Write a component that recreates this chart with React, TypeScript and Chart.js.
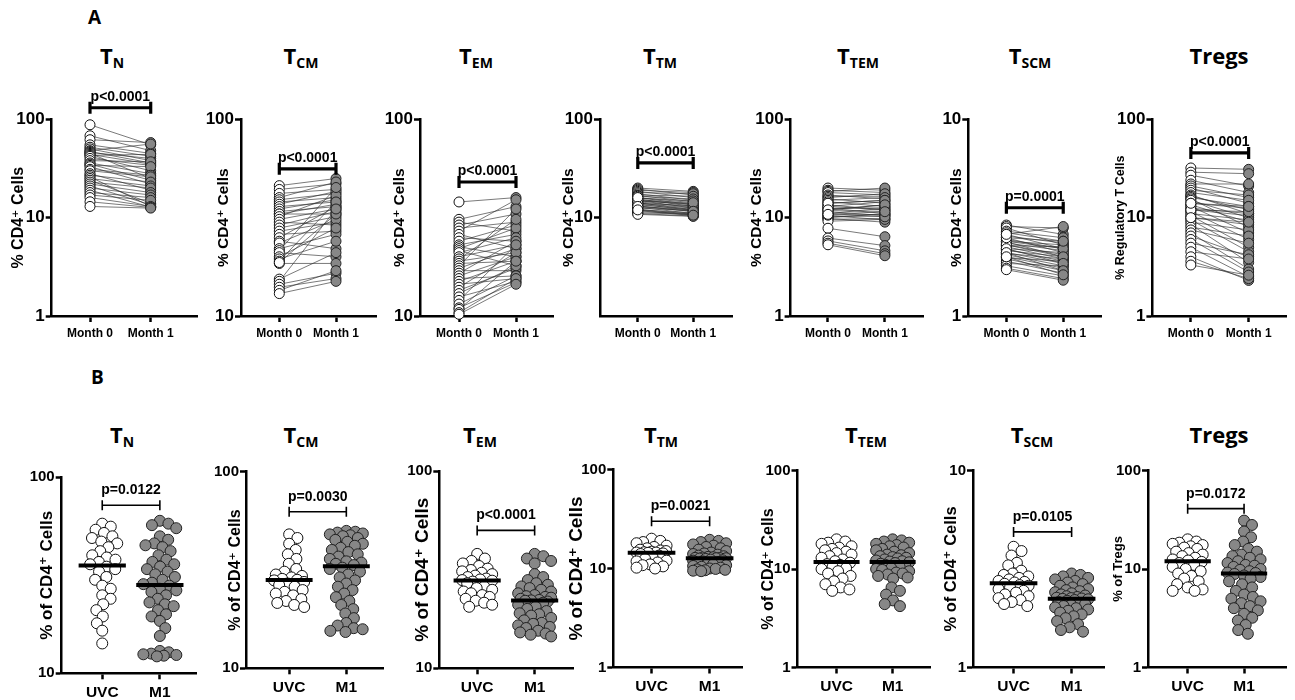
import React, { useEffect, useRef } from 'react';
import { Chart, registerables } from 'chart.js';
Chart.register(...registerables);

// ---------------- DATA ----------------
const monthLabels = ['Month 0', 'Month 1'];
const groupLabels = ['UVC', 'M1'];

const titleMain = ['T', 'T', 'T', 'T', 'T', 'T', 'Tregs'];
const titleSub = ['N', 'CM', 'EM', 'TM', 'TEM', 'SCM', ''];

// Panel A (paired Month 0 / Month 1)
const aTnMonth0 = [88, 68, 62, 55, 52, 50, 48, 47, 46, 45, 44, 43, 42, 40, 38, 36, 35, 34, 33, 31, 30, 28, 27, 26, 25, 24, 23, 22, 21, 20, 19, 18, 17, 16, 14.5, 13];
const aTnMonth1 = [55, 48, 58, 45, 42, 38, 56, 36, 40, 25, 35, 44, 30, 34, 37, 28, 24, 33, 22, 27, 26, 19, 23, 13, 21, 14, 20, 18, 13.5, 17, 12.8, 16, 15, 13, 12.7, 12.5];
const aTcmMonth0 = [46, 44, 42, 40, 39, 38, 37, 36, 35, 34, 33, 33, 32, 31, 30, 29, 28, 27, 26, 25, 24, 23.5, 22, 21.5, 21, 20, 19.5, 19, 18.5, 18.7, 15.4, 15, 14.5, 14, 13.5, 13];
const aTcmMonth1 = [50, 47, 44, 48, 42, 40, 43, 38, 39, 36, 37, 33, 41, 35, 29, 34, 32, 30, 27, 36, 22, 31, 26, 45, 20, 28, 24, 38, 18.5, 33, 21, 35, 16.5, 15.5, 17, 15];
const aTemMonth0 = [38, 31, 30, 29, 28, 27, 26, 25, 24, 23, 22.5, 22, 21.5, 21, 20, 19.5, 19, 18.5, 18, 17.5, 17, 16.5, 16, 15.5, 15, 14.5, 14, 13.5, 13, 12.5, 12, 11.5, 11, 10.8, 10.4, 10.2];
const aTemMonth1 = [40, 36, 27, 33, 30, 39, 22, 24, 29, 26, 20, 28, 18, 25, 23, 31, 21, 19, 35, 22, 17, 24, 20, 16, 19, 15.5, 21, 17.5, 18, 15, 23, 16, 14.8, 19, 15.5, 14.5];
const aTtmMonth0 = [20, 19.5, 19, 18.5, 18, 17.5, 17, 16.8, 16.5, 16, 15.8, 15.5, 15.2, 15, 14.8, 14.5, 14.2, 14, 13.8, 13.5, 13.2, 13, 12.8, 12.5, 12.2, 12, 11.8, 11.5, 11.2, 11, 10.8, 14, 15, 16, 13, 12];
const aTtmMonth1 = [18.5, 17, 18, 16, 17.5, 15, 16.5, 14.5, 15.5, 13.5, 14.8, 13, 14, 12.5, 13.8, 12.8, 12, 13.2, 11.8, 12.2, 11.5, 12, 11, 11.8, 10.8, 11.2, 10.5, 11, 10.8, 10.4, 10.3, 12.5, 13.5, 14.2, 11.6, 10.6];
const aTtemMonth0 = [20, 19, 18.5, 18, 17, 16.5, 16, 15.5, 15, 14.5, 14, 13.5, 13, 12.5, 12, 11.5, 11, 10.5, 10, 9.8, 10.2, 9.6, 9.2, 10.6, 7.8, 11.8, 6.2, 12.4, 5.8, 5.5, 5.3, 13, 14, 11, 12, 10.8];
const aTtemMonth1 = [19, 18, 20, 17, 15.5, 16.5, 17.5, 14, 16, 13, 15, 12, 14.5, 11, 13.5, 10.5, 12.5, 9.5, 11, 9, 10.4, 9.8, 9.6, 10.8, 6.4, 11.6, 5.2, 12.6, 4.6, 4.3, 4.1, 12, 15, 10.2, 13.5, 11.5];
const aTscmMonth0 = [2.9, 2.85, 2.8, 2.7, 2.65, 2.6, 2.55, 2.5, 2.45, 2.4, 2.38, 2.35, 2.3, 2.28, 2.25, 2.2, 2.18, 2.15, 2.1, 2.08, 2.05, 2.0, 1.98, 1.95, 1.9, 1.85, 1.8, 1.75, 1.72, 2.4, 2.3, 2.2, 2.5, 2.6, 2.1, 2.0];
const aTscmMonth1 = [2.6, 2.8, 2.3, 2.5, 2.4, 2.2, 2.35, 2.1, 2.2, 2.3, 2.0, 2.15, 2.05, 2.25, 1.95, 2.1, 1.9, 2.0, 1.85, 1.95, 1.8, 1.75, 1.9, 1.7, 1.65, 1.8, 1.6, 1.55, 1.52, 2.2, 2.0, 1.85, 2.4, 2.85, 1.7, 1.62];
const aTregsMonth0 = [32, 29, 27, 24, 22, 21, 20, 19, 18, 17, 16.5, 16, 15.5, 15, 14, 13.5, 13, 12.5, 12, 11.5, 11, 10.5, 10, 9.5, 9, 8.5, 8, 7.5, 7, 6.5, 6, 5.5, 5, 4.5, 4, 3.6, 3.3, 12, 14, 10];
const aTregsMonth1 = [31, 28, 21, 18, 22, 16, 14, 17, 15, 11, 12, 13, 8, 10, 12.5, 9, 7, 11, 10.5, 6, 9.5, 5, 8.5, 4.5, 7.5, 3.5, 6.5, 5.5, 3, 4, 2.8, 4.2, 2.5, 3.8, 2.3, 2.4, 2.6, 11.5, 13, 9];

// Panel B (UVC vs M1)
const bTnUVC = [58, 56, 54, 52, 50, 49, 47, 46, 44, 42, 40, 39, 38, 37, 36, 35, 34, 33, 31, 30, 28, 27, 25, 24, 22.5, 21, 19.5, 18, 16.5, 14.2];
const bTnM1 = [60, 58, 57, 55, 50, 48, 46, 45, 44, 42, 40, 38, 37, 36, 35, 34, 33, 32, 31, 30, 29, 28.5, 28, 27, 26.5, 26, 25, 24, 23, 22.5, 22, 21, 20, 19.5, 18.5, 17, 15.5, 13, 12.8, 12.6, 12.5, 12.4, 12.3, 12.2];
const bTcmUVC = [48, 46, 43, 40, 38, 36, 34, 32, 31, 30, 29.5, 29, 28.5, 28.2, 28, 27.5, 27, 26.5, 26, 25, 24.5, 24, 23.5, 22.5, 22, 21.5, 21, 20.5];
const bTcmM1 = [50, 49.5, 49, 48.5, 48, 47.5, 47, 46, 45, 44, 43, 42, 41, 40, 39, 38, 37, 36, 35, 34.5, 34, 33.5, 32.5, 32, 31, 30, 29, 28, 27, 26, 25, 24, 23, 22, 21, 20, 19, 18, 17, 16.5, 16, 15.8, 15.5, 15.3];
const bTemUVC = [38, 36, 35, 34, 33, 32, 31.5, 31, 30.5, 30, 29.5, 29, 28.5, 28.2, 28, 27.8, 27.5, 27, 26, 25.5, 25, 24.5, 24, 23.5, 23, 22.5, 22, 21.5, 21, 20.5];
const bTemM1 = [38, 37, 36, 35, 34, 30, 29, 28, 27, 26.5, 26, 25.5, 25, 24.5, 24, 23.5, 23.2, 23, 22.8, 22.5, 22.2, 22.1, 22, 21.8, 21.5, 21, 20.5, 20, 19.5, 19, 18.8, 18.5, 18, 17.5, 17, 16.8, 16.5, 16.2, 16, 15.5, 15.2, 15, 14.8, 14.5];
const bTtmUVC = [20, 19, 18.5, 18, 17, 16.5, 16, 15.5, 15.2, 15, 14.8, 14.6, 14.5, 14.5, 14.4, 14.2, 14, 13.5, 13, 12.5, 12, 11.8, 11.5, 11, 10.8, 10.5, 10.2, 10];
const bTtmM1 = [19.5, 19, 18.5, 18, 17.5, 17, 16.5, 16, 15.5, 15, 14.5, 14.2, 14, 13.8, 13.5, 13.3, 13.1, 13, 12.9, 12.8, 12.75, 12.7, 12.7, 12.6, 12.5, 12.3, 12.1, 12, 11.8, 11.6, 11.4, 11.2, 11, 10.8, 10.6, 10.4, 10.2, 10, 9.9, 9.8, 9.7, 9.6, 9.5, 9.4];
const bTtemUVC = [20, 19, 18.5, 18, 17, 16.5, 16, 15.5, 15, 14.5, 14, 13.5, 13, 12.5, 12, 11.6, 11.2, 11, 10.5, 10.2, 10, 9.5, 9, 8.5, 8, 7.5, 7, 6.5, 6.2, 6];
const bTtemM1 = [20, 19.5, 19, 18.5, 18, 17.5, 17, 16.5, 16, 15.5, 15, 14.5, 14, 13.8, 13.5, 13.2, 13, 12.8, 12.5, 12.2, 12, 11.9, 11.7, 11.5, 11.3, 11, 10.8, 10.5, 10.2, 10, 9.8, 9.5, 9.2, 9, 8.8, 8.5, 8.2, 8, 6.5, 6, 5.5, 4.8, 4.4, 4.2];
const bTscmUVC = [4.1, 3.9, 3.7, 3.4, 3.3, 3.1, 3.0, 2.95, 2.9, 2.85, 2.8, 2.75, 2.72, 2.7, 2.66, 2.62, 2.6, 2.55, 2.5, 2.45, 2.4, 2.35, 2.3, 2.25, 2.2, 2.15, 2.1, 2.05];
const bTscmM1 = [3.0, 2.95, 2.9, 2.85, 2.8, 2.75, 2.7, 2.65, 2.6, 2.55, 2.5, 2.47, 2.44, 2.41, 2.38, 2.35, 2.32, 2.3, 2.28, 2.26, 2.25, 2.24, 2.23, 2.22, 2.2, 2.18, 2.15, 2.12, 2.1, 2.08, 2.05, 2.02, 2.0, 1.97, 1.94, 1.9, 1.86, 1.82, 1.78, 1.72, 1.66, 1.6, 1.55, 1.52];
const bTregsUVC = [20, 19, 18.5, 18, 17.5, 17, 16.5, 16, 15, 14.5, 14, 13.5, 13, 12.5, 12.2, 11.8, 11.5, 11, 10.5, 10, 9.5, 9, 8.5, 8, 7.5, 7, 6.5, 6.2, 6, 6];
const bTregsM1 = [31, 28, 24, 21, 19, 17.5, 16, 15, 14, 13.5, 13, 12.5, 12, 11.5, 11, 10.8, 10.5, 10, 9.8, 9.5, 9.2, 9.1, 8.9, 8.6, 8.3, 8, 7.5, 7, 6.5, 6, 5.5, 5.2, 5, 4.7, 4.5, 4.2, 4, 3.8, 3.5, 3.2, 3, 2.7, 2.4, 2.2];

// axis ranges & ticks
const yRangesA = [[1, 100], [10, 100], [10, 100], [1, 100], [1, 100], [1, 10], [1, 100]];
const yTicksA = [[1, 10, 100], [10, 100], [10, 100], [10, 100], [1, 10, 100], [1, 10], [1, 10, 100]];
const yRangesB = [[10, 100], [10, 100], [10, 100], [1, 100], [1, 100], [1, 10], [1, 100]];
const yTicksB = [[10, 100], [10, 100], [10, 100], [1, 10, 100], [1, 10, 100], [1, 10], [1, 10, 100]];
const yTitlesA = ['% CD4⁺ Cells', '% CD4⁺ Cells', '% CD4⁺ Cells', '% CD4⁺ Cells', '% CD4⁺ Cells', '% CD4⁺ Cells', '% Regulatory T Cells'];
const yTitlesB = ['% of CD4⁺ Cells', '% of CD4⁺ Cells', '% of CD4⁺ Cells', '% of CD4⁺ Cells', '% of CD4⁺ Cells', '% of CD4⁺ Cells', '% of Tregs'];

// significance annotations
const pValuesA = ['p<0.0001', 'p<0.0001', 'p<0.0001', 'p<0.0001', '', 'p=0.0001', 'p<0.0001'];
const bracketLevelsA = [131, 56, 48, 36, null, 3.55, 45.5];
const pValuesB = ['p=0.0122', 'p=0.0030', 'p<0.0001', 'p=0.0021', '', 'p=0.0105', 'p=0.0172'];
const bracketLevelsB = [72, 62.6, 50, 30, null, 4.88, 41];

const seriesA = [
  [aTnMonth0, aTnMonth1], [aTcmMonth0, aTcmMonth1], [aTemMonth0, aTemMonth1], [aTtmMonth0, aTtmMonth1],
  [aTtemMonth0, aTtemMonth1], [aTscmMonth0, aTscmMonth1], [aTregsMonth0, aTregsMonth1],
];
const seriesB = [
  [bTnUVC, bTnM1], [bTcmUVC, bTcmM1], [bTemUVC, bTemM1], [bTtmUVC, bTtmM1],
  [bTtemUVC, bTtemM1], [bTscmUVC, bTscmM1], [bTregsUVC, bTregsM1],
];

// ---------------- LAYOUT ----------------
type Geo = { lab: number; ax: number; xr: number; t0: number; t1: number; tc: number; top: number; bot: number; ts: number };
const geoA: Geo[] = [
  { lab: 19, ax: 51.7, xr: 197, t0: 90, t1: 150.7, tc: 112, top: 119.3, bot: 316, ts: 16 },
  { lab: 224, ax: 241, xr: 376, t0: 279.3, t1: 336, tc: 301, top: 119.3, bot: 316, ts: 15.5 },
  { lab: 400, ax: 420, xr: 553, t0: 459, t1: 516, tc: 476, top: 119.3, bot: 316, ts: 15.5 },
  { lab: 569, ax: 600, xr: 731.7, t0: 637.7, t1: 693, tc: 660, top: 119.3, bot: 316, ts: 15.5 },
  { lab: 756.5, ax: 790.6, xr: 922.3, t0: 827.8, t1: 884.4, tc: 858, top: 119.3, bot: 316, ts: 15.5 },
  { lab: 956.8, ax: 968.3, xr: 1100.4, t0: 1006.2, t1: 1062.8, tc: 1030, top: 119.3, bot: 316, ts: 15.5 },
  { lab: 1120.5, ax: 1152.4, xr: 1285.1, t0: 1190.6, t1: 1248, tc: 1219, top: 119.3, bot: 316, ts: 12.5 },
];
const geoB: Geo[] = [
  { lab: 47.5, ax: 61.7, xr: 196.7, t0: 102.3, t1: 160, tc: 122, top: 477.3, bot: 673.3, ts: 17 },
  { lab: 236, ax: 246, xr: 384, t0: 289.3, t1: 346.7, tc: 301, top: 471.7, bot: 668.3, ts: 16 },
  { lab: 423, ax: 439.3, xr: 574, t0: 477.3, t1: 535, tc: 480, top: 471, bot: 668.3, ts: 19 },
  { lab: 577, ax: 613.3, xr: 743, t0: 651.7, t1: 710, tc: 661, top: 469.5, bot: 667.5, ts: 19 },
  { lab: 769, ax: 797.5, xr: 931, t0: 836.7, t1: 893, tc: 866, top: 470.5, bot: 667.5, ts: 16 },
  { lab: 951.3, ax: 973, xr: 1104.6, t0: 1013.6, t1: 1071.7, tc: 1032, top: 470.5, bot: 667.5, ts: 16.5 },
  { lab: 1118.8, ax: 1148, xr: 1287, t0: 1187.8, t1: 1244.4, tc: 1219, top: 470.5, bot: 667.5, ts: 13 },
];

const FONT = "'Liberation Sans', Arial, 'DejaVu Sans', sans-serif";
const TITLE_FONT = "'Open Sans', 'Lato', sans-serif";
const GRAY = '#878787';

type PanelCfg = {
  kind: 'paired' | 'swarm';
  a: number[]; b: number[];
  xLabels: string[];
  yRange: number[]; yTicks: number[];
  yTitle: string; yTitleSize: number;
  tickSize: number; xTickSize: number; xPad: number;
  level: number | null; pText: string;
  geo: Geo;
};

const panelsA: PanelCfg[] = seriesA.map((s, i) => ({
  kind: 'paired', a: s[0], b: s[1], xLabels: monthLabels,
  yRange: yRangesA[i], yTicks: yTicksA[i], yTitle: yTitlesA[i], yTitleSize: geoA[i].ts,
  tickSize: 17, xTickSize: 12, xPad: 4, level: bracketLevelsA[i], pText: pValuesA[i], geo: geoA[i],
}));
const panelsB: PanelCfg[] = seriesB.map((s, i) => ({
  kind: 'swarm', a: s[0], b: s[1], xLabels: groupLabels,
  yRange: yRangesB[i], yTicks: yTicksB[i], yTitle: yTitlesB[i], yTitleSize: geoB[i].ts,
  tickSize: 15, xTickSize: 15.5, xPad: 4, level: bracketLevelsB[i], pText: pValuesB[i], geo: geoB[i],
}));

function median(v: number[]): number {
  const s = [...v].sort((p, q) => p - q);
  const m = Math.floor(s.length / 2);
  return s.length % 2 ? s[m] : (s[m - 1] + s[m]) / 2;
}

function beeswarm(yPix: number[], d: number, maxHalf: number): number[] {
  const order = yPix.map((_, i) => i).sort((i, j) => yPix[i] - yPix[j]);
  const placed: { x: number; y: number }[] = [];
  const out = new Array(yPix.length).fill(0);
  for (const i of order) {
    const y = yPix[i];
    const near = placed.filter((p) => Math.abs(p.y - y) < d);
    const cands = [0];
    for (const p of near) {
      const dx = Math.sqrt(d * d - (p.y - y) * (p.y - y));
      cands.push(p.x + dx + 0.01, p.x - dx - 0.01);
    }
    cands.sort((u, v) => Math.abs(u) - Math.abs(v));
    let chosen: number | null = null;
    for (const c of cands) {
      if (Math.abs(c) <= maxHalf && near.every((p) => (p.x - c) * (p.x - c) + (p.y - y) * (p.y - y) >= d * d - 0.05)) { chosen = c; break; }
    }
    if (chosen === null) {
      let best = 0, bestScore = -1;
      for (let c = -maxHalf; c <= maxHalf; c += 0.5) {
        const md = Math.min(...near.map((p) => Math.hypot(p.x - c, p.y - y)));
        if (md > bestScore + 1e-6 || (Math.abs(md - bestScore) < 1e-6 && Math.abs(c) < Math.abs(best))) { bestScore = md; best = c; }
      }
      chosen = best;
    }
    placed.push({ x: chosen, y });
    out[i] = chosen;
  }
  return out;
}

const PAD_TOP = 50;
const PAD_RIGHT = 6;

function canvasBox(c: PanelCfg) {
  const lh = c.yTitleSize * 1.2;
  const left = Math.floor(Math.min(c.geo.lab - lh / 2, c.geo.ax - 50));
  const titlePad = c.geo.lab - lh / 2 - left;
  const xAxisH = c.kind === 'paired' ? 40 : 36;
  const top = Math.round(c.geo.top - PAD_TOP);
  const padTop = c.geo.top - top;
  const width = Math.ceil(c.geo.xr + PAD_RIGHT - left);
  const height = Math.ceil(padTop + (c.geo.bot - c.geo.top) + xAxisH);
  const xAxisHeight = height - padTop - (c.geo.bot - c.geo.top);
  return { left, top, width, height, padTop, xAxisHeight, titlePad };
}

function Panel({ c }: { c: PanelCfg }) {
  const ref = useRef<HTMLCanvasElement>(null);
  const box = canvasBox(c);
  useEffect(() => {
    const g = c.geo;
    const s = g.t1 - g.t0;
    const xMin = -(g.t0 - g.ax) / s;
    const xMax = (g.xr - g.t0) / s;
    const yW = g.ax - box.left;
    const paired = c.kind === 'paired';
    const r = paired ? 5 : 5.5;

    const datasets: any[] = [];
    if (paired) {
      c.a.forEach((v, i) => {
        datasets.push({
          type: 'line', data: [{ x: 0, y: v }, { x: 1, y: c.b[i] }],
          borderColor: 'rgba(45,45,45,0.8)', borderWidth: 0.8, pointRadius: 0, order: 5, clip: false,
        });
      });
      datasets.push({ type: 'scatter', data: c.a.map((v) => ({ x: 0, y: v })), backgroundColor: '#ffffff', borderColor: '#111', borderWidth: 1, pointRadius: r, order: 1, clip: false });
      datasets.push({ type: 'scatter', data: c.b.map((v) => ({ x: 1, y: v })), backgroundColor: GRAY, borderColor: '#222', borderWidth: 1, pointRadius: r, order: 1, clip: false });
    } else {
      datasets.push({ type: 'scatter', data: c.a.map((v) => ({ x: 0, y: v })), backgroundColor: '#ffffff', borderColor: '#111', borderWidth: 1, pointRadius: r, order: 1, clip: false });
      datasets.push({ type: 'scatter', data: c.b.map((v) => ({ x: 1, y: v })), backgroundColor: GRAY, borderColor: '#222', borderWidth: 1, pointRadius: r, order: 1, clip: false });
      [c.a, c.b].forEach((vals, gi) => {
        const m = median(vals);
        datasets.push({ type: 'line', data: [{ x: gi - 0.41, y: m }, { x: gi + 0.41, y: m }], borderColor: '#000', borderWidth: 4, pointRadius: 0, order: 0, clip: false, borderCapStyle: 'butt' });
      });
    }

    const bracketPlugin = {
      id: 'sigBracket',
      afterDatasetsDraw(chart: any) {
        if (c.level == null) return;
        const { ctx } = chart;
        const xs = chart.scales.x, ys = chart.scales.y;
        const x0 = xs.getPixelForValue(0), x1 = xs.getPixelForValue(1);
        const yy = ys.getPixelForValue(c.level);
        const cap = paired ? 6 : 5;
        ctx.save();
        ctx.strokeStyle = '#000';
        ctx.lineWidth = paired ? 3.2 : 1.6;
        ctx.beginPath();
        ctx.moveTo(x0, yy); ctx.lineTo(x1, yy);
        ctx.moveTo(x0, yy - cap); ctx.lineTo(x0, yy + cap);
        ctx.moveTo(x1, yy - cap); ctx.lineTo(x1, yy + cap);
        ctx.stroke();
        ctx.fillStyle = '#000';
        ctx.font = `bold 14px ${FONT}`;
        ctx.textAlign = 'center';
        ctx.textBaseline = 'alphabetic';
        ctx.fillText(c.pText, (x0 + x1) / 2, yy - (paired ? 7 : 11));
        ctx.restore();
      },
    };

    const axisCommon = {
      grid: { display: true, drawOnChartArea: false, drawTicks: true, tickLength: 6, tickWidth: 2.5, tickColor: '#000' },
      border: { display: true, color: '#000', width: 2.5 },
    };

    const chart = new Chart(ref.current as HTMLCanvasElement, {
      type: 'scatter',
      data: { datasets },
      plugins: [bracketPlugin],
      options: {
        animation: false,
        responsive: false,
        devicePixelRatio: 1,
        layout: { padding: { left: 0, right: PAD_RIGHT, top: box.padTop, bottom: 0 } },
        plugins: { legend: { display: false }, tooltip: { enabled: false } },
        events: [],
        scales: {
          x: {
            type: 'linear', min: xMin, max: xMax,
            ...axisCommon,
            afterBuildTicks: (sc: any) => { sc.ticks = [{ value: 0 }, { value: 1 }]; },
            afterFit: (sc: any) => { sc.height = box.xAxisHeight; },
            ticks: {
              autoSkip: false, maxRotation: 0, minRotation: 0, padding: c.xPad, color: '#000',
              font: { family: FONT, size: c.xTickSize, weight: 'bold' },
              callback: (v: any) => c.xLabels[Math.round(v)] ?? '',
            },
          },
          y: {
            type: 'logarithmic', min: c.yRange[0], max: c.yRange[1],
            ...axisCommon,
            afterBuildTicks: (sc: any) => { sc.ticks = c.yTicks.map((v) => ({ value: v })); },
            afterFit: (sc: any) => { sc.width = yW; },
            ticks: {
              autoSkip: false, padding: 1, color: '#000',
              font: { family: FONT, size: c.tickSize, weight: 'bold' },
              callback: (v: any) => String(v),
            },
            title: {
              display: true, text: c.yTitle, color: '#000', padding: { top: box.titlePad, bottom: 0 },
              font: { family: FONT, size: c.yTitleSize, weight: 'bold', lineHeight: 1.2 },
            },
          },
        },
      } as any,
    });

    if (!paired) {
      const xs: any = chart.scales.x, ys: any = chart.scales.y;
      const ppu = xs.getPixelForValue(1) - xs.getPixelForValue(0);
      [c.a, c.b].forEach((vals, gi) => {
        const offs = beeswarm(vals.map((v) => ys.getPixelForValue(v)), 2 * r * 0.82, gi === 0 ? 15 : 16.5);
        (chart.data.datasets[gi] as any).data = vals.map((v, i) => ({ x: gi + offs[i] / ppu, y: v }));
      });
      chart.update('none');
    }
    return () => chart.destroy();
  }, []);
  return (
    <canvas
      ref={ref}
      width={box.width}
      height={box.height}
      style={{ position: 'absolute', left: box.left, top: box.top, width: box.width, height: box.height }}
    />
  );
}

function Title({ main, sub, x, top }: { main: string; sub: string; x: number; top: number }) {
  return (
    <div style={{ position: 'absolute', left: x - 100, top, width: 200, textAlign: 'center', fontFamily: TITLE_FONT, fontWeight: 700, fontSize: 22, lineHeight: '22px', color: '#000', whiteSpace: 'nowrap' }}>
      {main}
      {sub ? <sub style={{ fontSize: 14, verticalAlign: '-4px', lineHeight: '14px' }}>{sub}</sub> : null}
    </div>
  );
}

export default function App() {
  return (
    <div style={{ position: 'fixed', left: 0, top: 0, width: 1295, height: 700, background: '#fff', overflow: 'hidden' }}>
      <div style={{ position: 'absolute', left: 88, top: 8, fontFamily: TITLE_FONT, fontWeight: 700, fontSize: 19, lineHeight: '19px' }}>A</div>
      <div style={{ position: 'absolute', left: 91, top: 368, fontFamily: TITLE_FONT, fontWeight: 700, fontSize: 19, lineHeight: '19px' }}>B</div>
      {panelsA.map((c, i) => <Title key={'ta' + i} main={titleMain[i]} sub={titleSub[i]} x={c.geo.tc} top={44} />)}
      {panelsB.map((c, i) => <Title key={'tb' + i} main={titleMain[i]} sub={titleSub[i]} x={c.geo.tc} top={423} />)}
      {panelsA.map((c, i) => <Panel key={'pa' + i} c={c} />)}
      {panelsB.map((c, i) => <Panel key={'pb' + i} c={c} />)}
    </div>
  );
}
